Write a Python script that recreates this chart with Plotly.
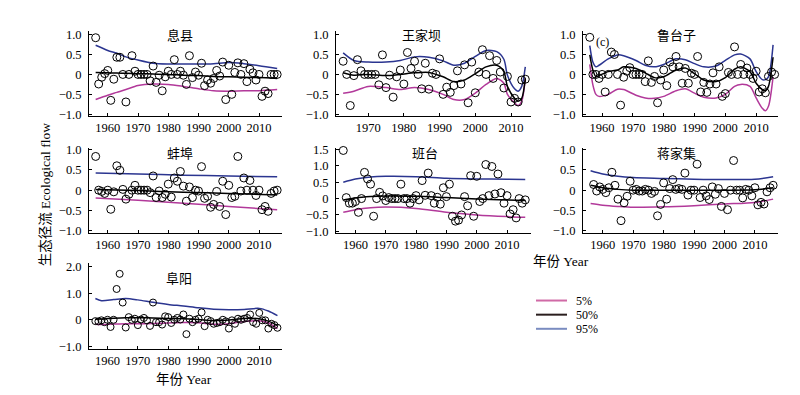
import plotly.graph_objects as go

# ---------------- data ----------------
stations = ["息县", "王家坝", "鲁台子", "蚌埠", "班台", "蒋家集", "阜阳"]
years_full = list(range(1956, 2017))
years_wjb = list(range(1963, 2015))

xixian_flow = [0.92, -0.24, -0.07, 0.02, 0.1, -0.65, -0.12, 0.43, 0.43, 0.0, -0.69, 0.0, 0.47, 0.08,
               0, 0, 0, 0, -0.16, 0.21, -0.2, -0.02, -0.41, -0.06, 0.08, 0, 0.37, 0, 0.08, -0.02,
               -0.25, 0.47, -0.08, 0.06, -0.02, 0.28, -0.28, -0.14, -0.22, -0.1, 0.1, -0.04, 0.31,
               -0.63, 0.23, -0.5, 0.05, 0.29, 0, 0.27, -0.18, 0.13, 0.04, -0.14, 0, -0.55, -0.42,
               -0.48, 0, 0, 0]
xixian_qyears = [1956, 1960, 1963, 1966, 1970, 1975, 1980, 1985, 1990, 1995, 2000, 2005, 2010, 2016]
xixian_q95 = [0.73, 0.6, 0.53, 0.44, 0.36, 0.28, 0.26, 0.26, 0.26, 0.27, 0.3, 0.27, 0.22, 0.15]
xixian_q50 = [0.05, 0.04, 0.035, 0.03, 0.02, 0.01, 0.0, -0.02, -0.03, -0.05, -0.06, -0.07, -0.08, -0.1]
xixian_q05 = [-0.63, -0.52, -0.45, -0.38, -0.28, -0.24, -0.25, -0.3, -0.36, -0.41, -0.42, -0.41, -0.41, -0.38]

wjb_flow = [0.33, 0, -0.78, -0.03, 0.37, 0.09, 0, 0, 0, 0, -0.26, 0.49, -0.33, -0.02, -0.57, -0.06,
            0.11, -0.24, 0.55, 0.15, 0.33, 0, -0.36, 0.28, -0.37, 0.03, 0, 0.39, -0.5, -0.32, -0.45,
            -0.28, 0.09, -0.24, 0.24, -0.71, 0.31, -0.46, 0.06, 0.62, 0, 0.47, -0.1, 0.35, 0.06,
            -0.34, -0.05, -0.69, -0.6, -0.69, -0.14, -0.12]
wjb_qyears = [1963, 1966, 1970, 1975, 1979, 1983, 1987, 1991, 1994, 1997, 2000, 2003, 2006, 2008,
              2009, 2011, 2012, 2013, 2014]
wjb_q95 = [0.54, 0.35, 0.31, 0.31, 0.35, 0.44, 0.43, 0.34, 0.23, 0.28, 0.45, 0.6, 0.57, 0.38, -0.02,
           -0.36, -0.42, -0.3, 0.19]
wjb_q50 = [0.04, -0.02, 0.0, -0.03, 0.0, 0.04, 0.05, -0.06, -0.18, -0.14, 0.02, 0.19, 0.23, 0.07,
           -0.3, -0.6, -0.67, -0.6, -0.1]
wjb_q05 = [-0.47, -0.42, -0.3, -0.33, -0.38, -0.33, -0.38, -0.5, -0.63, -0.63, -0.47, -0.25, -0.1,
           -0.22, -0.5, -0.71, -0.78, -0.67, -0.1]

ltz_flow = [0.93, 0, 0, -0.1, 0, -0.44, 0, 0.56, 0.5, 0, -0.77, -0.07, 0.08, 0.17, 0, 0, 0, 0,
            -0.18, 0.34, -0.2, -0.05, -0.71, -0.14, 0.11, -0.28, 0.31, 0.19, 0.45, 0.19, -0.22, 0.15,
            -0.22, 0.03, 0, 0.45, -0.44, -0.2, -0.45, -0.24, 0.04, -0.24, 0.19, -0.55, -0.48, 0.05,
            0, 0.69, 0, 0.25, 0, 0.16, 0, -0.1, 0.08, -0.44, -0.36, -0.46, -0.05, 0.06, 0]
ltz_qyears = [1956, 1957, 1958, 1959, 1962, 1965, 1967, 1971, 1974, 1977, 1980, 1984, 1987, 1990,
              1993, 1997, 2000, 2003, 2005, 2008, 2010, 2012, 2013, 2014, 2015.5]
ltz_q95 = [0.72, 0.31, 0.19, 0.23, 0.39, 0.49, 0.47, 0.35, 0.23, 0.19, 0.25, 0.39, 0.37, 0.27, 0.19,
           0.21, 0.35, 0.49, 0.51, 0.39, 0.07, -0.13, -0.13, -0.06, 0.74]
ltz_q50 = [0.49, 0.11, -0.06, -0.03, 0.07, 0.11, 0.19, 0.15, 0.04, -0.08, -0.06, 0.11, 0.16, 0.02,
           -0.14, -0.18, -0.08, 0.13, 0.19, 0.07, -0.22, -0.38, -0.41, -0.3, 0.43]
ltz_q05 = [0.25, -0.26, -0.5, -0.55, -0.5, -0.37, -0.38, -0.52, -0.59, -0.6, -0.55, -0.41, -0.36,
           -0.47, -0.57, -0.59, -0.5, -0.3, -0.25, -0.3, -0.59, -0.85, -0.91, -0.8, -0.06]

bb_flow = [0.83, 0, -0.03, -0.08, 0, -0.47, -0.04, 0.6, 0.49, 0.02, -0.22, -0.1, 0, 0.12, 0, 0, 0, 0,
           -0.06, 0.35, -0.18, -0.02, -0.18, -0.1, 0.15, -0.17, 0.3, 0.22, 0.46, 0.1, -0.27, 0.08,
           -0.18, 0, -0.02, 0.58, -0.2, -0.15, -0.42, -0.35, -0.03, -0.4, 0.22, -0.6, 0.12, -0.18,
           -0.15, 0.83, -0.02, 0.3, 0, 0.24, 0, -0.13, 0, -0.48, -0.4, -0.52, -0.08, -0.02, 0]
bb_qyears = [1956, 1970, 1985, 2000, 2016]
bb_q95 = [0.42, 0.4, 0.37, 0.35, 0.33]
bb_q50 = [0.02, -0.01, -0.05, -0.08, -0.12]
bb_q05 = [-0.19, -0.25, -0.32, -0.4, -0.48]

bt_flow = [1.47, 0.03, -0.14, -0.14, -0.09, -0.42, 0, 0.8, 0.6, 0.44, -0.54, 0, 0.19, 0.08, -0.06,
           0.03, 0, 0, 0, 0.44, 0, 0, -0.14, 0, 0.09, -0.04, 0.55, 0.1, 0.78, 0.09, -0.14, 0.04,
           -0.17, 0.33, 0.06, 0.44, -0.54, -0.69, -0.66, -0.5, 0.06, -0.22, 0.7, -0.54, 0.68, -0.09,
           0, 1.04, 0.09, 0.98, 0.14, 0.75, 0.18, -0.14, 0.09, -0.47, -0.34, -0.59, 0, -0.14, -0.04]
bt_qyears = [1956, 1960, 1965, 1970, 1980, 1990, 2000, 2010, 2016]
bt_q95 = [0.5, 0.6, 0.66, 0.68, 0.67, 0.62, 0.6, 0.59, 0.58]
bt_q50 = [-0.04, 0.02, 0.06, 0.08, 0.07, 0.03, -0.01, -0.04, -0.06]
bt_q05 = [-0.42, -0.34, -0.28, -0.26, -0.3, -0.42, -0.5, -0.55, -0.57]

jjj_flow = [1.13, 0.14, -0.02, 0.08, 0.02, -0.06, 0.06, 0.44, 0.12, -0.22, -0.75, -0.31, -0.15, 0.22,
            0, 0.02, -0.02, -0.02, 0.02, 0, -0.08, -0.03, -0.63, -0.35, 0.18, -0.22, 0.04, 0.26, 0.02,
            0.04, 0.02, 0.42, -0.12, 0, 0, 0.64, -0.18, 0, -0.14, -0.23, 0.08, -0.1, 0.04, -0.4,
            -0.08, -0.48, 0, 0.73, 0, 0, -0.19, 0.02, 0, -0.14, 0.06, -0.36, -0.3, -0.34, -0.04,
            0.06, 0.12]
jjj_qyears = [1956, 1960, 1965, 1970, 1980, 1990, 2000, 2010, 2016]
jjj_q95 = [0.48, 0.4, 0.34, 0.31, 0.29, 0.27, 0.26, 0.27, 0.33]
jjj_q50 = [0.12, 0.06, 0.02, 0.0, 0.0, 0.0, 0.0, 0.01, 0.06]
jjj_q05 = [-0.33, -0.37, -0.4, -0.42, -0.41, -0.38, -0.34, -0.3, -0.22]

fy_flow = [-0.05, -0.06, -0.02, -0.09, 0.0, -0.27, 0, 1.16, 1.73, 0.65, -0.29, 0.1, 0, 0.04, -0.2,
           0.01, 0.07, -0.02, -0.23, 0.65, -0.09, -0.09, -0.18, 0.13, 0.1, -0.12, 0, 0.07, 0.01,
           0.2, -0.54, 0.04, -0.09, 0, 0.04, 0.28, -0.24, 0, -0.05, -0.15, -0.12, -0.09, 0, -0.06,
           -0.33, -0.02, -0.15, 0.04, 0, 0.04, 0.07, 0.2, -0.09, -0.15, 0.26, -0.02, -0.02, -0.33,
           -0.15, -0.2, -0.3]
fy_qyears = [1956, 1958, 1962, 1966, 1970, 1975, 1980, 1985, 1990, 1995, 2000, 2005, 2010, 2013, 2016]
fy_q95 = [0.8, 0.72, 0.76, 0.8, 0.75, 0.66, 0.58, 0.52, 0.45, 0.4, 0.38, 0.39, 0.43, 0.33, 0.16]
fy_q50 = [0.02, 0.03, 0.06, 0.08, 0.08, 0.07, 0.05, 0.04, 0.01, -0.03, -0.01, 0.05, 0.04, -0.05, -0.22]
fy_q05 = [-0.17, -0.18, -0.16, -0.15, -0.15, -0.14, -0.12, -0.1, -0.11, -0.17, -0.15, -0.06, -0.04, -0.12, -0.33]

legend_labels = ["5%", "50%", "95%"]
xtick_vals = [1960, 1970, 1980, 1990, 2000, 2010]
ytick_main = [1.0, 0.5, 0, -0.5, -1.0]
ytick_main_text = ["1.0", "0.5", "0", "\u22120.5", "\u22121.0"]
ytick_bt = [1.5, 1.0, 0.5, 0, -0.5, -1.0]
ytick_bt_text = ["1.5", "1.0", "0.5", "0", "\u22120.5", "\u22121.0"]
ytick_fy = [2.0, 1.0, 0, -1.0]
ytick_fy_text = ["2.0", "1.0", "0", "\u22121.0"]

# ---------------- styling / layout ----------------
W, H = 800, 395
C05, C50, C95 = "#b2399a", "#000000", "#2b3590"
SERIF = "Liberation Serif, Times New Roman, serif"
CJK = "Noto Sans CJK SC"

def px(x):
    return x / W

def py(y):
    return 1 - y / H

panels = [
    dict(yrs=years_full, flow=xixian_flow, qy=xixian_qyears, q05=xixian_q05, q50=xixian_q50, q95=xixian_q95,
         xd=(81, 274), yd=(18, 106), xr=[1953.8, 2017.6], yr=[-1.05, 1.1], yt=(ytick_main, ytick_main_text),
         tp=(172, 22), ms=8),
    dict(yrs=years_wjb, flow=wjb_flow, qy=wjb_qyears, q05=wjb_q05, q50=wjb_q50, q95=wjb_q95,
         xd=(328, 523), yd=(18, 106), xr=[1961.0, 2015.6], yr=[-1.05, 1.1], yt=(ytick_main, ytick_main_text),
         tp=(413, 22), ms=8),
    dict(yrs=years_full, flow=ltz_flow, qy=ltz_qyears, q05=ltz_q05, q50=ltz_q50, q95=ltz_q95,
         xd=(575, 770), yd=(18, 106), xr=[1953.8, 2017.1], yr=[-1.05, 1.1], yt=(ytick_main, ytick_main_text),
         tp=(668, 22), ms=8),
    dict(yrs=years_full, flow=bb_flow, qy=bb_qyears, q05=bb_q05, q50=bb_q50, q95=bb_q95,
         xd=(81, 274), yd=(138, 226), xr=[1953.8, 2017.6], yr=[-1.06, 1.05], yt=(ytick_main, ytick_main_text),
         tp=(172, 143), ms=8),
    dict(yrs=years_full, flow=bt_flow, qy=bt_qyears, q05=bt_q05, q50=bt_q50, q95=bt_q95,
         xd=(328, 523), yd=(138, 226), xr=[1953.6, 2017.9], yr=[-1.06, 1.56], yt=(ytick_bt, ytick_bt_text),
         tp=(417, 143), ms=8),
    dict(yrs=years_full, flow=jjj_flow, qy=jjj_qyears, q05=jjj_q05, q50=jjj_q50, q95=jjj_q95,
         xd=(575, 770), yd=(138, 226), xr=[1953.5, 2017.6], yr=[-1.06, 1.05], yt=(ytick_main, ytick_main_text),
         tp=(668, 143), ms=8),
    dict(yrs=years_full, flow=fy_flow, qy=fy_qyears, q05=fy_q05, q50=fy_q50, q95=fy_q95,
         xd=(81, 274), yd=(257, 345), xr=[1953.9, 2017.5], yr=[-1.11, 2.12], yt=(ytick_fy, ytick_fy_text),
         tp=(171, 271), ms=7),
]

fig = go.Figure()
layout = dict(
    width=W, height=H, margin=dict(l=0, r=0, t=0, b=0),
    paper_bgcolor="white", plot_bgcolor="white", showlegend=False,
    font=dict(family=SERIF, size=12, color="black"),
)
annotations = []
shapes = []

for i, p in enumerate(panels):
    n = "" if i == 0 else str(i + 1)
    xa, ya = "x" + n, "y" + n
    for q, col in ((p["q95"], C95), (p["q05"], C05), (p["q50"], C50)):
        fig.add_trace(go.Scatter(x=p["qy"], y=q, mode="lines", xaxis=xa, yaxis=ya,
                                 line=dict(color=col, width=1.5, shape="spline", smoothing=0.8),
                                 hoverinfo="skip", cliponaxis=False))
    fig.add_trace(go.Scatter(x=p["yrs"], y=p["flow"], mode="markers", xaxis=xa, yaxis=ya,
                             marker=dict(symbol="circle-open", size=p["ms"], color="black",
                                         line=dict(width=1, color="black")),
                             cliponaxis=False))
    layout["xaxis" + n] = dict(
        domain=[px(p["xd"][0]), px(p["xd"][1])], range=p["xr"], anchor=ya,
        showline=True, linecolor="black", linewidth=1, mirror=False,
        ticks="inside", ticklen=3, tickcolor="black", tickvals=xtick_vals,
        showgrid=False, zeroline=False, tickfont=dict(family=SERIF, size=12.5),
    )
    layout["yaxis" + n] = dict(
        domain=[py(p["yd"][1]), py(p["yd"][0])], range=p["yr"], anchor=xa,
        showline=True, linecolor="black", linewidth=1, mirror=False,
        ticks="inside", ticklen=3, tickcolor="black",
        tickvals=p["yt"][0], ticktext=p["yt"][1],
        showgrid=False, zeroline=False, tickfont=dict(family=SERIF, size=12.5),
        ticklabelstandoff=4,
    )
    annotations.append(dict(text=stations[i], x=px(p["tp"][0]), y=py(p["tp"][1]),
                            xref="paper", yref="paper", showarrow=False,
                            xanchor="center", yanchor="middle",
                            font=dict(family=CJK, size=13, color="black")))

annotations.append(dict(text="(c)", x=px(594), y=py(30), xref="paper", yref="paper",
                        showarrow=False, xanchor="center", yanchor="middle",
                        font=dict(family=SERIF, size=12)))
annotations.append(dict(text="生态径流 Ecological flow", x=px(37), y=py(187), xref="paper", yref="paper",
                        showarrow=False, textangle=-90, xanchor="center", yanchor="middle",
                        font=dict(family=SERIF + ", " + CJK, size=13.5)))
annotations.append(dict(text="年份 Year", x=px(553), y=py(255), xref="paper", yref="paper",
                        showarrow=False, xanchor="center", yanchor="middle",
                        font=dict(family=SERIF + ", " + CJK, size=13.5)))
annotations.append(dict(text="年份 Year", x=px(176), y=py(376), xref="paper", yref="paper",
                        showarrow=False, xanchor="center", yanchor="middle",
                        font=dict(family=SERIF + ", " + CJK, size=13.5)))

# legend (drawn manually)
leg_cols = ["#d06aa6", "#2a1e1e", "#7a8cc0"]
leg_y = [295, 309.5, 324]
for lab, col, yy in zip(legend_labels, leg_cols, leg_y):
    shapes.append(dict(type="line", xref="paper", yref="paper", x0=px(528), x1=px(559),
                       y0=py(yy), y1=py(yy), line=dict(color=col, width=2)))
    annotations.append(dict(text=lab, x=px(566), y=py(yy), xref="paper", yref="paper",
                            showarrow=False, xanchor="left", yanchor="middle",
                            font=dict(family=SERIF, size=12)))

layout["annotations"] = annotations
layout["shapes"] = shapes
fig.update_layout(**layout)
fig.write_html("out.html")
